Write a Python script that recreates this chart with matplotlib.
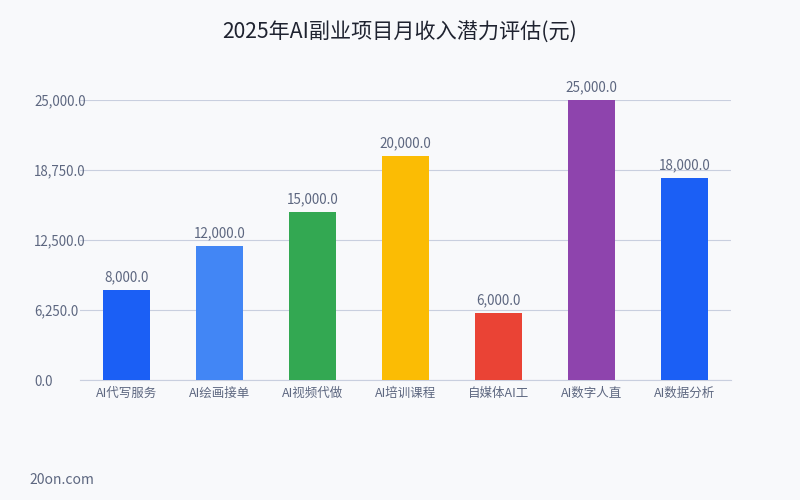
import matplotlib
matplotlib.use("Agg")
import matplotlib.pyplot as plt
from matplotlib.ticker import FuncFormatter, FixedLocator

plt.rcParams['font.family'] = ['Noto Sans CJK SC', 'DejaVu Sans']

categories = ["AI代写服务", "AI绘画接单", "AI视频代做", "AI培训课程", "自媒体AI工", "AI数字人直", "AI数据分析"]
values = [8000, 12000, 15000, 20000, 6000, 25000, 18000]
colors = ["#1b5ff5", "#4286f5", "#33a852", "#fbbc04", "#ea4335", "#8e44ad", "#1b5ff5"]
yticks = [0, 6250, 12500, 18750, 25000]

bg = "#f8f9fb"
txt = "#5d6780"
grid = "#c9cfdf"

fig = plt.figure(figsize=(8, 5), dpi=100, facecolor=bg)
ax = fig.add_axes([0.1, 0.24, 0.814, 0.56], facecolor=bg)

x = list(range(len(categories)))
bars = ax.bar(x, values, width=0.5, color=colors, zorder=3)
for xi, v in zip(x, values):
    ax.text(xi, v + 500, f"{v:,.1f}", ha="center", va="bottom", fontsize=9.7, color=txt)

ax.set_xlim(-0.5, len(categories) - 0.5)
ax.set_ylim(0, 25000)
ax.yaxis.set_major_locator(FixedLocator(yticks))
ax.yaxis.set_major_formatter(FuncFormatter(lambda v, p: f"{v:,.1f}"))
ax.grid(axis="y", color=grid, linewidth=0.8, zorder=0)
ax.set_xticks(x)
ax.set_xticklabels(categories, fontsize=9, color=txt)
ax.tick_params(axis="y", length=0, labelsize=9.6, labelcolor=txt, pad=4)
ax.tick_params(axis="x", length=0, pad=5)
for s in ["top", "right", "left"]:
    ax.spines[s].set_visible(False)
ax.spines["bottom"].set_color(grid)
for lab in ax.get_yticklabels():
    lab.set_horizontalalignment("left")
    lab.set_x(-0.062)

fig.text(0.5, 0.935, "2025年AI副业项目月收入潜力评估(元)", ha="center", va="center", fontsize=15.2, color="#1f2330")
fig.text(0.037, 0.04, "20on.com", ha="left", va="center", fontsize=10, color=txt)

fig.savefig("out.png", dpi=100, facecolor=bg)
